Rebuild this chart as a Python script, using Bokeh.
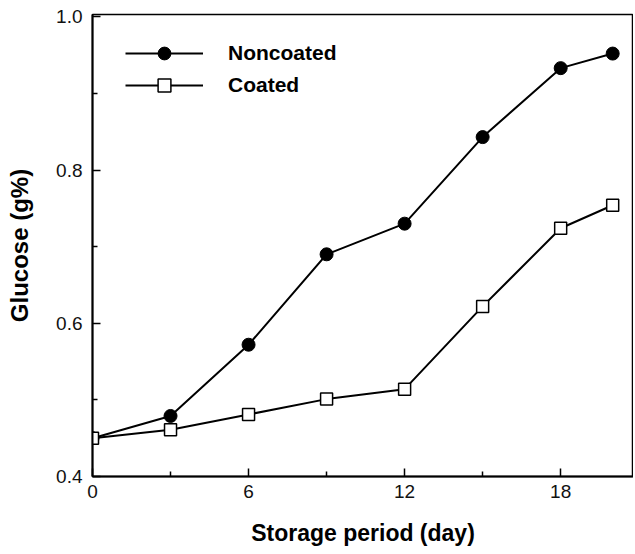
from bokeh.plotting import figure
from bokeh.models import Range1d, FixedTicker, Legend, LegendItem, CustomJSTickFormatter
from bokeh.embed import file_html
from bokeh.resources import INLINE

days = [0, 3, 6, 9, 12, 15, 18, 20]
noncoated = [0.450, 0.479, 0.572, 0.690, 0.730, 0.843, 0.933, 0.952]
coated = [0.450, 0.461, 0.481, 0.501, 0.514, 0.622, 0.724, 0.754]
x_ticks = [0, 6, 12, 18]
y_ticks = [0.4, 0.6, 0.8, 1.0]

p = figure(width=633, height=553, output_backend="svg", toolbar_location=None,
           x_range=Range1d(0, 20.8), y_range=Range1d(0.4, 1.003),
           min_border_left=92, min_border_right=0, min_border_top=14, min_border_bottom=77)
p.grid.visible = False
p.outline_line_color = "black"
p.outline_line_width = 1.5
p.background_fill_color = "white"
p.border_fill_color = "white"

for ax in (p.xaxis[0], p.yaxis[0]):
    ax.axis_line_width = 2
    ax.axis_line_color = "black"
    ax.major_tick_in = 8
    ax.major_tick_out = 0
    ax.minor_tick_in = 5
    ax.minor_tick_out = 0
    ax.major_tick_line_width = 1.5
    ax.minor_tick_line_width = 1.5
    ax.major_label_text_font = "Liberation Sans"
    ax.major_label_text_font_size = "19px"
    ax.major_label_text_color = "#111111"
    ax.axis_label_text_font = "Liberation Sans"
    ax.axis_label_text_font_style = "bold"
    ax.axis_label_text_color = "black"

p.xaxis.axis_label_text_font_size = "23px"
p.yaxis.axis_label_text_font_size = "24px"
p.xaxis.ticker = FixedTicker(ticks=x_ticks, minor_ticks=[3, 9, 15])
p.yaxis.ticker = FixedTicker(ticks=y_ticks, minor_ticks=[0.5, 0.7, 0.9])
p.yaxis.formatter = CustomJSTickFormatter(code="return tick.toFixed(1);")
p.xaxis.axis_label = "Storage period (day)"
p.yaxis.axis_label = "Glucose (g%)"
p.xaxis.major_label_standoff = 8
p.yaxis.major_label_standoff = 10
p.xaxis.axis_label_standoff = 19
p.yaxis.axis_label_standoff = 20

l1 = p.line(days, noncoated, line_color="black", line_width=2)
m1 = p.scatter(days, noncoated, marker="circle", size=13, fill_color="black", line_color="black")
l2 = p.line(days, coated, line_color="black", line_width=2)
m2 = p.scatter(days, coated, marker="square", size=12, fill_color="white", line_color="black", line_width=1.5)

legend = Legend(items=[LegendItem(label="Noncoated", renderers=[l1, m1]),
                       LegendItem(label="Coated", renderers=[l2, m2])],
                location=(33, 375), glyph_width=78, glyph_height=32, spacing=-6,
                padding=0, margin=0, label_standoff=25,
                label_text_font="Liberation Sans", label_text_font_style="bold",
                label_text_font_size="21px", label_text_color="black",
                border_line_color=None, background_fill_alpha=0)
p.add_layout(legend)

open("out.html", "w").write(file_html(p, INLINE))
